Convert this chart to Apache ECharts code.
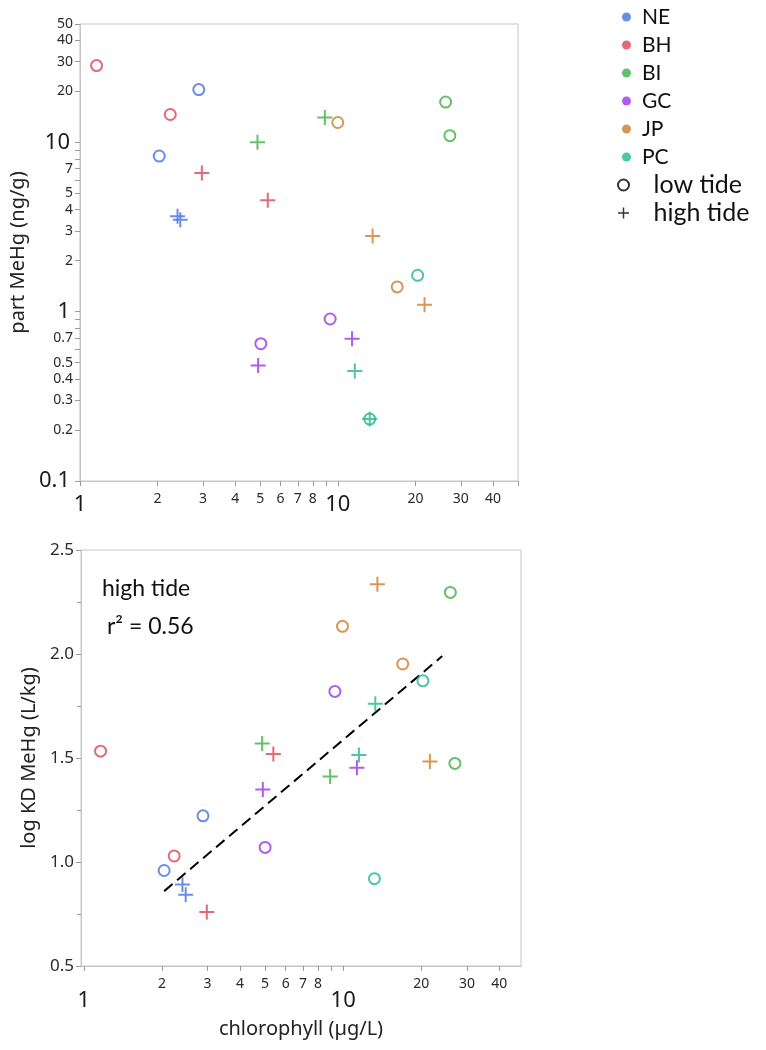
<!DOCTYPE html>
<html><head><meta charset="utf-8">
<script src="https://cdn.jsdelivr.net/npm/echarts@6/dist/echarts.min.js"></script>
<style>html,body{margin:0;padding:0;background:#fff}#c{width:766px;height:1050px}</style>
</head><body><div id="c"></div>
<script>
// ---------- data ----------
const sites = ['NE', 'BH', 'BI', 'GC', 'JP', 'PC'];
const tides = ['low tide', 'high tide'];

// top panel: particulate MeHg (ng/g) vs chlorophyll (µg/L)
const topSite = ['BH','BH','BH','BH','NE','NE','NE','NE','BI','BI','BI','BI','GC','GC','GC','GC','JP','JP','JP','JP','PC','PC','PC','PC'];
const topTide = ['low','low','high','high','low','low','high','high','high','high','low','low','low','high','low','high','low','high','low','high','high','low','high','low'];
const topChl  = [1.16, 2.24, 2.97, 5.35, 2.03, 2.89, 2.39, 2.45, 4.88, 8.91, 26.2, 27.2, 5.03, 4.91, 9.34, 11.36, 10.0, 13.65, 17.0, 21.7, 11.64, 13.3, 13.3, 20.4];
const topMeHg = [28.4, 14.6, 6.6, 4.55, 8.3, 20.5, 3.66, 3.49, 10.0, 14.0, 17.3, 10.95, 0.647, 0.481, 0.905, 0.692, 13.1, 2.8, 1.40, 1.10, 0.446, 0.232, 0.232, 1.64];

// bottom panel: log KD MeHg (L/kg) vs chlorophyll (µg/L)
const botSite = ['BH','BH','BH','BH','NE','NE','NE','NE','BI','BI','BI','BI','GC','GC','GC','GC','JP','JP','JP','JP','PC','PC','PC','PC'];
const botTide = ['low','low','high','high','low','low','high','high','high','high','low','low','low','high','low','high','low','high','low','high','high','high','low','low'];
const botChl  = [1.16, 2.23, 2.98, 5.38, 2.04, 2.88, 2.40, 2.47, 4.87, 8.91, 25.9, 26.97, 5.0, 4.9, 9.29, 11.3, 9.94, 13.55, 16.97, 21.6, 11.5, 13.3, 13.2, 20.3];
const botLogKd = [1.533, 1.029, 0.760, 1.519, 0.959, 1.222, 0.892, 0.842, 1.570, 1.411, 2.296, 1.474, 1.070, 1.349, 1.820, 1.453, 2.133, 2.335, 1.952, 1.483, 1.514, 1.761, 0.920, 1.871];

// high-tide regression line end points
const fitChl = [2.04, 24.1];
const fitLogKd = [0.86, 1.99];
const fitLabel = ['high tide', 'r² = 0.56'];

// axis ticks / labels
const logTicksX = [1,2,3,4,5,6,7,8,9,10,20,30,40,50];
const logLabelsX = [1,2,3,4,5,6,7,8,10,20,30,40];
const logTicksY = [0.1,0.2,0.3,0.4,0.5,0.6,0.7,0.8,0.9,1,2,3,4,5,6,7,8,9,10,20,30,40,50];
const logLabelsY = [0.1,0.2,0.3,0.4,0.5,0.7,1,2,3,4,5,7,10,20,30,40,50];

// ---------- styling ----------
const siteColors = {NE:'#4372e0', BH:'#dc4356', BI:'#3fb045', GC:'#9b35e6', JP:'#d07a2c', PC:'#22b68c'};
const PLUS = 'path://M0,-10L0,10M-10,0L10,0';
const gridLine = '#c6c6c6';
const tickColor = '#9a9a9a';
const bigVals = [0.1, 1, 10];
function logFmt(v) {
  const n = +(+v).toPrecision(6);
  return (bigVals.indexOf(n) >= 0 ? '{b|' : '{s|') + n + '}';
}
function rich(bigPadTop, bigPadRight) {
  return {
    s: {fontFamily: 'Noto Sans', fontSize: 14, color: '#2a2a2a'},
    b: {fontFamily: 'Noto Sans', fontSize: 22, color: '#1a1a1a', padding: [bigPadTop, bigPadRight, 0, 0]}
  };
}

function makePoints(site, tide, xs, ys, s) {
  const out = [];
  for (let i = 0; i < site.length; i++) {
    if (site[i] !== s) continue;
    const c = siteColors[s];
    if (tide[i] === 'low') {
      out.push({value: [xs[i], ys[i]], symbol: 'circle', symbolSize: 11,
        itemStyle: {color: 'transparent', borderColor: c, borderWidth: 2}});
    } else {
      out.push({value: [xs[i], ys[i]], symbol: PLUS, symbolSize: 15,
        itemStyle: {color: 'transparent', borderColor: c, borderWidth: 2}});
    }
  }
  return out;
}

const series = [];
sites.forEach(s => {
  series.push({type: 'scatter', name: s, xAxisIndex: 0, yAxisIndex: 0,
    itemStyle: {color: siteColors[s]}, data: makePoints(topSite, topTide, topChl, topMeHg, s)});
  series.push({type: 'scatter', name: s, xAxisIndex: 1, yAxisIndex: 1,
    itemStyle: {color: siteColors[s]}, data: makePoints(botSite, botTide, botChl, botLogKd, s)});
});
tides.forEach(t => series.push({type: 'scatter', name: t, xAxisIndex: 0, yAxisIndex: 0, data: []}));
series.push({type: 'line', name: 'fit', xAxisIndex: 1, yAxisIndex: 1, symbol: 'none', silent: true,
  lineStyle: {color: '#000', width: 2, type: [11, 6]},
  data: fitChl.map((x, i) => [x, fitLogKd[i]]), z: 1});

function logXAxis(gridIndex, min, max, bigPad, margin) {
  return {type: 'log', logBase: 10, gridIndex, min, max,
    axisLine: {show: true, onZero: false, lineStyle: {color: gridLine}},
    axisTick: {show: true, length: 5, customValues: logTicksX, lineStyle: {color: tickColor}},
    axisLabel: {customValues: logLabelsX, formatter: logFmt, rich: rich(bigPad, 0), margin},
    splitLine: {show: false}};
}

const option = {
  animation: false,
  backgroundColor: '#fff',
  grid: [
    {left: 78, top: 24, width: 440, height: 457, show: true, borderColor: gridLine, borderWidth: 1},
    {left: 81, top: 550, width: 440, height: 416, show: true, borderColor: gridLine, borderWidth: 1}
  ],
  xAxis: [
    logXAxis(0, 1, 50, 2, 11),
    Object.assign(logXAxis(1, 0.975, 48.5, 13, 11), {
      name: 'chlorophyll (µg/L)', nameLocation: 'middle', nameGap: 53,
      nameTextStyle: {fontFamily: 'Noto Sans', fontSize: 20, color: '#222'}})
  ],
  yAxis: [
    {type: 'log', logBase: 10, gridIndex: 0, min: 0.1, max: 50,
      name: 'part MeHg (ng/g)', nameLocation: 'middle', nameGap: 40,
      nameTextStyle: {fontFamily: 'Noto Sans', fontSize: 20, color: '#222'},
      axisLine: {show: true, lineStyle: {color: gridLine}},
      axisTick: {show: true, length: 5, customValues: logTicksY, lineStyle: {color: tickColor}},
      axisLabel: {customValues: logLabelsY, formatter: logFmt, rich: rich(0, 3), margin: 7},
      splitLine: {show: false}},
    {type: 'value', gridIndex: 1, min: 0.5, max: 2.5, interval: 0.5,
      name: 'log KD MeHg (L/kg)', nameLocation: 'middle', nameGap: 36,
      nameTextStyle: {fontFamily: 'Noto Sans', fontSize: 20, color: '#222'},
      axisLine: {show: true, lineStyle: {color: gridLine}},
      axisTick: {show: true, length: 5, lineStyle: {color: tickColor}},
      minorTick: {show: true, splitNumber: 2, length: 4, lineStyle: {color: tickColor}},
      axisLabel: {fontFamily: 'Noto Sans', fontSize: 17, color: '#2a2a2a', margin: 7,
        formatter: v => v.toFixed(1)},
      splitLine: {show: false}}
  ],
  legend: [
    {orient: 'vertical', left: 617, top: 0, itemWidth: 9, itemHeight: 9, itemGap: 4,
      formatter: n => '{g|}{t|' + n + '}',
      textStyle: {fontFamily: 'Lato', fontSize: 21, lineHeight: 24, color: '#111',
        rich: {g: {width: 6}, t: {fontFamily: 'Lato', fontSize: 21, lineHeight: 24, color: '#111'}}},
      data: sites.map(s => ({name: s, icon: 'circle', itemStyle: {color: siteColors[s]}}))},
    {orient: 'vertical', left: 612, top: 166, itemWidth: 12, itemHeight: 11, itemGap: 0,
      formatter: n => '{g|}{t|' + n + '}',
      textStyle: {fontFamily: 'Lato', fontSize: 25, lineHeight: 28, color: '#111',
        rich: {g: {width: 19}, t: {fontFamily: 'Lato', fontSize: 25, lineHeight: 28, color: '#111'}}},
      data: [
        {name: 'low tide', icon: 'circle', itemStyle: {color: 'transparent', borderColor: '#000', borderWidth: 2}},
        {name: 'high tide', icon: PLUS, itemStyle: {color: 'transparent', borderColor: '#000', borderWidth: 1.5}}
      ]}
  ],
  graphic: [
    {type: 'text', left: 102, top: 577, style: {text: fitLabel[0], font: '23px Lato', fill: '#111'}},
    {type: 'text', left: 107, top: 615, style: {text: fitLabel[1], font: '23px Lato', fill: '#111'}}
  ],
  series
};
const chart = echarts.init(document.getElementById('c'), null, {renderer: 'canvas'});
chart.setOption(option);
</script></body></html>
